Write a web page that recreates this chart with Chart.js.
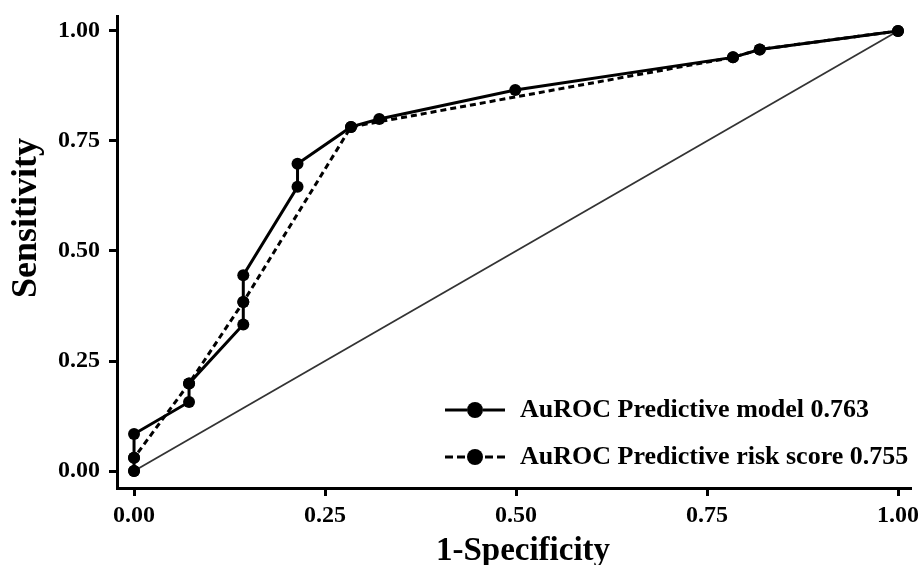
<!DOCTYPE html>
<html><head><meta charset="utf-8">
<script src="https://cdn.jsdelivr.net/npm/chart.js@4"></script>
<style>html,body{margin:0;padding:0;background:#fff}</style>
</head><body>
<canvas id="c" width="918" height="565" style="display:block;width:918px;height:565px"></canvas>
<script>
// ---- data ----
const modelFpr = [0, 0, 0, 0.072, 0.072, 0.143, 0.143, 0.143, 0.214, 0.214, 0.284, 0.321, 0.499, 0.784, 0.819, 1];
const modelTpr = [0, 0.030, 0.084, 0.157, 0.199, 0.333, 0.384, 0.445, 0.646, 0.698, 0.782, 0.800, 0.866, 0.940, 0.958, 1];
const scoreFpr = [0, 0, 0.072, 0.143, 0.284, 0.784, 0.819, 1];
const scoreTpr = [0, 0.030, 0.199, 0.384, 0.782, 0.940, 0.958, 1];
const chanceFpr = [0, 1];
const chanceTpr = [0, 1];
const tickValues = [0, 0.25, 0.5, 0.75, 1];
const tickLabels = ['0.00', '0.25', '0.50', '0.75', '1.00'];
const seriesLabels = ['AuROC Predictive model 0.763', 'AuROC Predictive risk score 0.755'];
const xTitle = '1-Specificity';
const yTitle = 'Sensitivity';

const FAMILY = '"Liberation Serif", "Times New Roman", Times, serif';
const toPts = (xs, ys) => xs.map((x, i) => ({x: x, y: ys[i]}));

const decor = {
  id: 'decor',
  afterDraw(chart) {
    const ctx = chart.ctx;
    const a = chart.chartArea;
    ctx.save();
    // legend
    const rows = [a.bottom - 78, a.bottom - 31];
    const x0 = a.left + 328, x1 = a.left + 388, cx = (x0 + x1) / 2, r = 8;
    let row = 0;
    chart.data.datasets.forEach(ds => {
      if (!ds.inLegend) return;
      const y = rows[row++];
      ctx.strokeStyle = ds.borderColor;
      ctx.lineWidth = 3;
      const dash = ds.borderDash && ds.borderDash.length ? [8, 4] : [];
      ctx.setLineDash(dash);
      ctx.beginPath(); ctx.moveTo(x0, y); ctx.lineTo(cx - r, y); ctx.stroke();
      ctx.beginPath(); ctx.moveTo(x1, y); ctx.lineTo(cx + r, y); ctx.stroke();
      ctx.setLineDash([]);
      ctx.fillStyle = ds.pointBackgroundColor;
      ctx.beginPath(); ctx.arc(cx, y, r, 0, Math.PI * 2); ctx.fill();
      ctx.fillStyle = '#000';
      ctx.font = 'bold 26px ' + FAMILY;
      ctx.textAlign = 'left';
      ctx.textBaseline = 'middle';
      ctx.fillText(ds.label, x1 + 15, y);
    });
    // axis titles
    ctx.fillStyle = '#000';
    ctx.font = 'bold 33px ' + FAMILY;
    ctx.textAlign = 'center';
    ctx.textBaseline = 'alphabetic';
    ctx.fillText(xTitle, (a.left + a.right) / 2 + 9, chart.height - 5);
    ctx.save();
    ctx.translate(36, (a.top + a.bottom) / 2 - 34);
    ctx.rotate(-Math.PI / 2);
    ctx.font = 'bold 36px ' + FAMILY;
    ctx.fillText(yTitle, 0, 0);
    ctx.restore();
    ctx.restore();
  }
};

const axisCommon = {
  type: 'linear',
  afterBuildTicks: s => { s.ticks = tickValues.map(v => ({value: v})); },
  grid: {drawOnChartArea: false, drawTicks: true, tickLength: 8, tickWidth: 3, tickColor: '#000', color: '#000'},
  border: {display: true, color: '#000', width: 3},
};

new Chart(document.getElementById('c'), {
  type: 'scatter',
  data: {
    datasets: [
      {label: seriesLabels[0], data: toPts(modelFpr, modelTpr), showLine: true, inLegend: true,
       borderColor: '#000', borderWidth: 3, pointRadius: 6, pointBackgroundColor: '#000', pointBorderWidth: 0},
      {label: seriesLabels[1], data: toPts(scoreFpr, scoreTpr), showLine: true, inLegend: true,
       borderColor: '#000', borderWidth: 3, borderDash: [6, 4], pointRadius: 6, pointBackgroundColor: '#000', pointBorderWidth: 0},
      {label: 'chance', data: toPts(chanceFpr, chanceTpr), showLine: true, inLegend: false,
       borderColor: '#333', borderWidth: 1.8, pointRadius: 0}
    ]
  },
  options: {
    responsive: false,
    animation: false,
    devicePixelRatio: 1,
    layout: {padding: {top: 16, right: 7, left: 0, bottom: 0}},
    plugins: {legend: {display: false}, tooltip: {enabled: false}},
    scales: {
      x: Object.assign({}, axisCommon, {
        min: -0.0223, max: 1.017,
        afterFit: s => { s.height = 77; s.paddingLeft = 0; s.paddingRight = 0; },
        ticks: {padding: 5, color: '#000', font: {family: FAMILY, size: 24, weight: 'bold'},
                maxRotation: 0, autoSkip: false,
                callback: v => tickLabels[tickValues.indexOf(v)]}
      }),
      y: Object.assign({}, axisCommon, {
        min: -0.0386, max: 1.034,
        afterFit: s => { s.width = 117; s.paddingTop = 0; s.paddingBottom = 0; },
        ticks: {padding: 9, color: '#000', font: {family: FAMILY, size: 24, weight: 'bold'},
                autoSkip: false,
                callback: v => tickLabels[tickValues.indexOf(v)]}
      })
    }
  },
  plugins: [decor]
});
</script>
</body></html>
